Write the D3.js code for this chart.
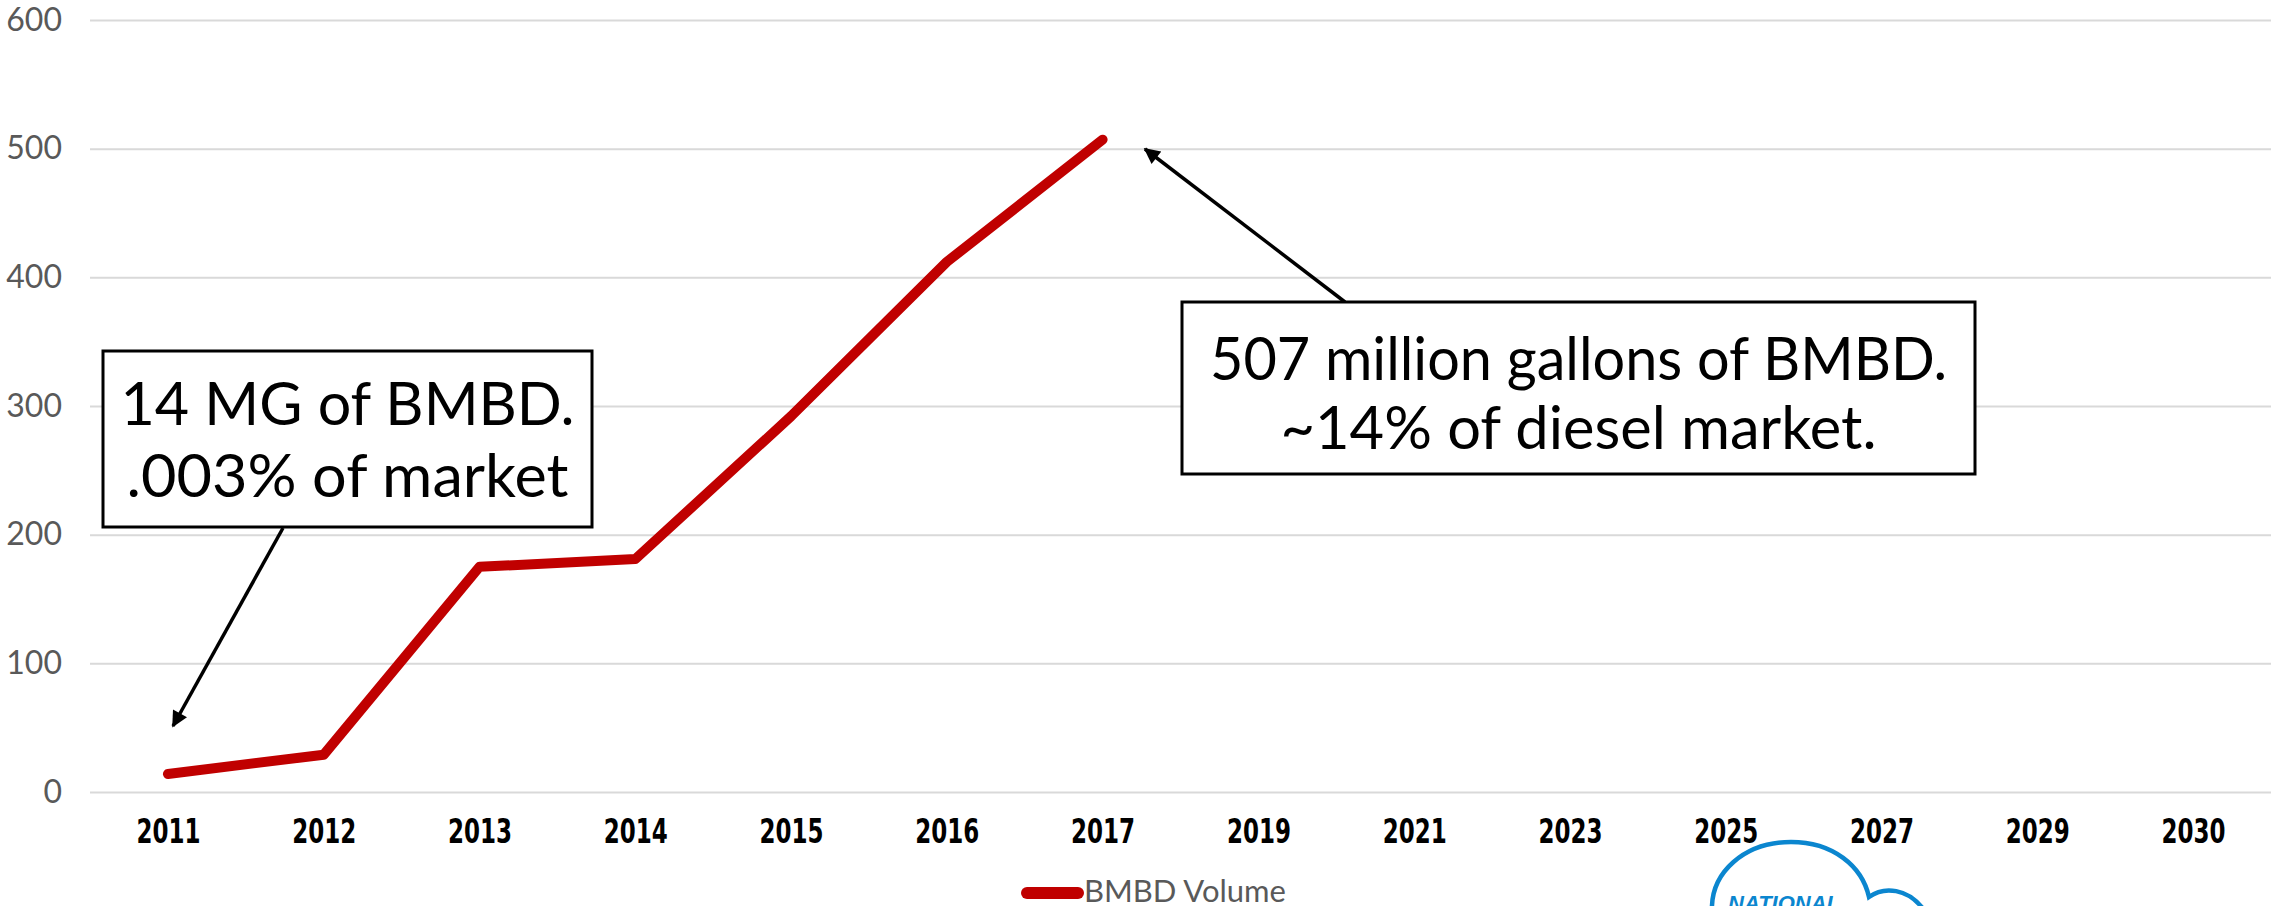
<!DOCTYPE html>
<html>
<head>
<meta charset="utf-8">
<script src="https://cdn.jsdelivr.net/npm/d3@7/dist/d3.min.js"></script>
<style>
  html, body { margin: 0; padding: 0; background: #ffffff; }
  svg { display: block; }
</style>
</head>
<body>
<svg id="chart" width="2280" height="906"></svg>
<script>
// ---- Data ----
const categories = ["2011","2012","2013","2014","2015","2016","2017","2019","2021","2023","2025","2027","2029","2030"];
const bmbdVolume = [14, 29, 175, 181, 292, 412, 507, null, null, null, null, null, null, null];
const yTicks = [0, 100, 200, 300, 400, 500, 600];
const seriesName = "BMBD Volume";
const noteLeft = ["14 MG of BMBD.", ".003% of market"];
const noteRight = ["507 million gallons of BMBD.", "~14% of diesel market."];
const logoText = "NATIONAL";

// ---- Layout ----
const W = 2280, H = 906;
const plotLeft = 90, plotRight = 2271, plotTop = 20, plotBottom = 792;
const svg = d3.select("#chart");

const x = d3.scalePoint().domain(categories).range([plotLeft, plotRight]).padding(0.5);
const y = d3.scaleLinear().domain([0, 600]).range([plotBottom, plotTop]);

const grey = "#595959";
const red = "#C00000";
const labelFont = "'Gill Sans', 'Gill Sans MT', Lato, 'Open Sans', sans-serif";
const xFont = "'Gill Sans MT Condensed', 'Liberation Sans Narrow', 'DejaVu Sans Condensed', sans-serif";

function fitText(sel, target) {
  const len = sel.node().getComputedTextLength();
  if (Math.abs(len - target) > 2) {
    sel.attr("textLength", target).attr("lengthAdjust", "spacingAndGlyphs");
  }
}

// gridlines
const yAxis = d3.axisLeft(y).tickValues(yTicks).tickSize(-(plotRight - plotLeft)).tickPadding(28);
const gy = svg.append("g").attr("transform", `translate(${plotLeft},0)`).call(yAxis);
gy.select(".domain").remove();
gy.selectAll(".tick line").attr("stroke", "#d9d9d9").attr("stroke-width", 2);
gy.selectAll(".tick text")
  .attr("fill", grey)
  .style("font-family", labelFont)
  .style("font-size", "32px");

// x axis labels
const xAxis = d3.axisBottom(x).tickSize(0).tickPadding(28);
const gx = svg.append("g").attr("transform", `translate(0,${plotBottom})`).call(xAxis);
gx.select(".domain").remove();
gx.selectAll(".tick text")
  .attr("fill", "#000")
  .style("font-family", xFont)
  .style("font-weight", "bold")
  .style("font-size", "33px")
  .each(function() { fitText(d3.select(this), 64); });

// series line
const line = d3.line()
  .defined(d => d.v != null)
  .x(d => x(d.c))
  .y(d => y(d.v));
const pts = categories.map((c, i) => ({ c, v: bmbdVolume[i] }));
svg.append("path")
  .datum(pts)
  .attr("d", line)
  .attr("fill", "none")
  .attr("stroke", red)
  .attr("stroke-width", 10)
  .attr("stroke-linecap", "round")
  .attr("stroke-linejoin", "round");

// arrow marker
const defs = svg.append("defs");
defs.append("marker")
  .attr("id", "arrow")
  .attr("viewBox", "0 0 10 10")
  .attr("refX", 9).attr("refY", 5)
  .attr("markerUnits", "userSpaceOnUse")
  .attr("markerWidth", 20).attr("markerHeight", 16)
  .attr("orient", "auto")
  .append("path")
  .attr("d", "M0,0 L10,5 L0,10 z")
  .attr("fill", "#000");

function note(box, lines, size, baselines, widths, arrowFrom, arrowTo) {
  svg.append("line")
    .attr("x1", arrowFrom[0]).attr("y1", arrowFrom[1])
    .attr("x2", arrowTo[0]).attr("y2", arrowTo[1])
    .attr("stroke", "#000").attr("stroke-width", 3.5)
    .attr("marker-end", "url(#arrow)");
  svg.append("rect")
    .attr("x", box[0]).attr("y", box[1])
    .attr("width", box[2] - box[0]).attr("height", box[3] - box[1])
    .attr("fill", "#fff").attr("stroke", "#000").attr("stroke-width", 3);
  const cx = (box[0] + box[2]) / 2;
  lines.forEach((t, i) => {
    const tx = svg.append("text")
      .attr("x", cx).attr("y", baselines[i])
      .attr("text-anchor", "middle")
      .attr("fill", "#000")
      .style("font-family", labelFont)
      .style("font-size", size + "px")
      .text(t);
    fitText(tx, widths[i]);
  });
}

note([103, 351, 592, 527], noteLeft, 60, [425, 497], [454, 442], [283, 528], [173, 726]);
note([1182, 302, 1975, 474], noteRight, 60, [380, 449], [737, 596], [1345, 302], [1145, 149]);

// legend
svg.append("line")
  .attr("x1", 1027).attr("x2", 1078)
  .attr("y1", 893).attr("y2", 893)
  .attr("stroke", red).attr("stroke-width", 12)
  .attr("stroke-linecap", "round");
svg.append("text")
  .attr("x", 1084).attr("y", 902)
  .attr("fill", grey)
  .style("font-family", labelFont)
  .style("font-size", "31px")
  .text(seriesName);

// partial logo (cloud) at bottom
const logoBlue = "#0B86CF";
svg.append("path")
  .attr("d", "M1712,912 C1710,872 1745,842 1791,842 C1833,842 1862,866 1869,897 C1884,886 1908,888 1924,910")
  .attr("fill", "none")
  .attr("stroke", logoBlue)
  .attr("stroke-width", 4.5);
svg.append("text")
  .attr("x", 1728).attr("y", 911)
  .attr("fill", logoBlue)
  .style("font-family", "'Liberation Sans', Arial, sans-serif")
  .style("font-weight", "bold")
  .style("font-style", "italic")
  .style("font-size", "22px")
  .text(logoText);
</script>
</body>
</html>
